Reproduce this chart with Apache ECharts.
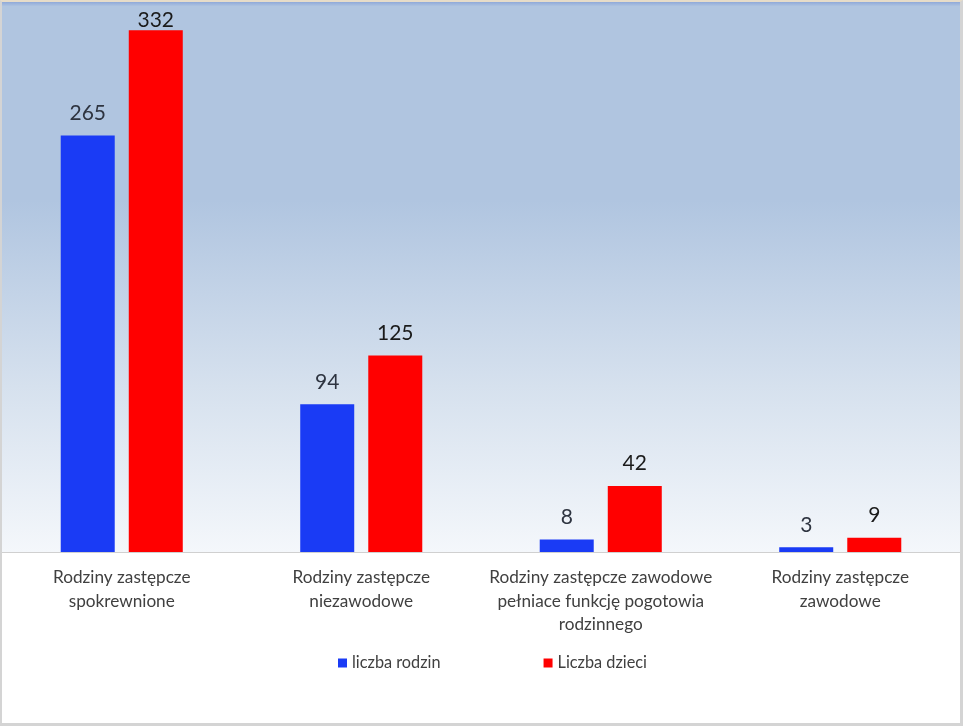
<!DOCTYPE html>
<html>
<head>
<meta charset="utf-8">
<script src="https://cdn.jsdelivr.net/npm/echarts@6/dist/echarts.min.js"></script>
<style>
html,body{margin:0;padding:0;background:#fff;}
#wrap{position:absolute;left:0;top:0;width:963px;height:726px;box-sizing:border-box;border-left:2px solid #D4D4D4;border-right:3px solid #D4D4D4;border-bottom:3px solid #D4D4D4;border-top:2px solid #E6DCC9;}
#chart{width:100%;height:100%;}
</style>
</head>
<body>
<div id="wrap"><div id="chart"></div></div>
<script>
const categories = [
  "Rodziny zastępcze\nspokrewnione",
  "Rodziny zastępcze\nniezawodowe",
  "Rodziny zastępcze zawodowe\npełniace funkcję pogotowia\nrodzinnego",
  "Rodziny zastępcze\nzawodowe"
];
const seriesNames = ["liczba rodzin", "Liczba dzieci"];
const liczbaRodzin = [265, 94, 8, 3];
const liczbaDzieci = [332, 125, 42, 9];

const chart = echarts.init(document.getElementById('chart'));
const fontFam = "Lato, 'Open Sans', sans-serif";
const redData = liczbaDzieci.map((v, i) => i === 0 ? {value: v, label: {distance: 0}} : v);
chart.setOption({
  animation: false,
  textStyle: {fontFamily: fontFam},
  grid: {
    left: 0, right: 0, top: 0, bottom: 171,
    show: true, borderWidth: 0,
    backgroundColor: new echarts.graphic.LinearGradient(0, 0, 0, 1, [
      {offset: 0, color: '#8FA9D9'},
      {offset: 0.008, color: '#B0C5E0'},
      {offset: 0.36, color: '#B0C5E0'},
      {offset: 0.7, color: '#D6E1EE'},
      {offset: 1, color: '#F4F7FB'}
    ])
  },
  legend: {
    bottom: 47, left: 331,
    itemWidth: 9, itemHeight: 9, itemGap: 103,
    icon: 'rect',
    textStyle: {fontSize: 16.3, color: '#404040', fontFamily: fontFam},
    data: seriesNames
  },
  xAxis: {
    type: 'category',
    data: categories,
    axisLine: {lineStyle: {color: '#D0D0D0', width: 1}},
    axisTick: {show: false},
    axisLabel: {fontSize: 17.2, color: '#404040', lineHeight: 23.5, margin: 14, interval: 0, fontFamily: fontFam}
  },
  yAxis: {
    type: 'value', min: 0, max: 350,
    show: false,
    splitLine: {show: false}
  },
  series: [
    {
      name: seriesNames[0], type: 'bar', data: liczbaRodzin,
      barWidth: 54, barGap: '26%',
      itemStyle: {color: '#1A3BF5'},
      label: {show: true, position: 'top', distance: 12, fontSize: 21, color: '#2E3440', fontFamily: fontFam}
    },
    {
      name: seriesNames[1], type: 'bar', data: redData,
      barWidth: 54,
      itemStyle: {color: '#FF0000'},
      label: {show: true, position: 'top', distance: 12, fontSize: 21, color: '#1A1A1A', fontFamily: fontFam}
    }
  ]
});
</script>
</body>
</html>
